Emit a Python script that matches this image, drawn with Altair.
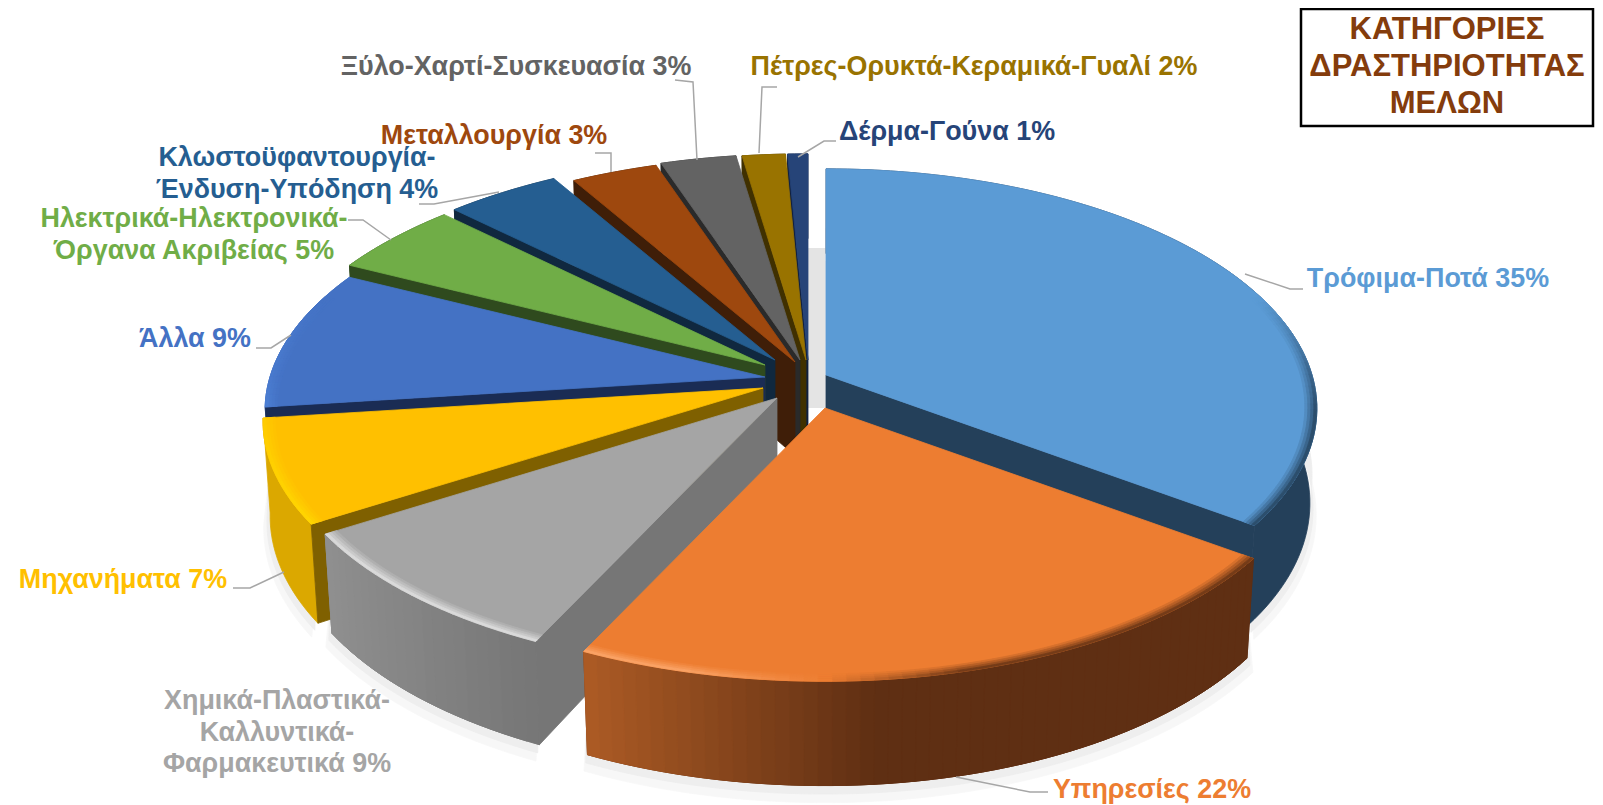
import math
import altair as alt
import pandas as pd

# ---- data ----
categories = ["Τρόφιμα-Ποτά", "Υπηρεσίες", "Χημικά-Πλαστικά-\nΚαλλυντικά-\nΦαρμακευτικά", "Μηχανήματα", "Άλλα",
              "Ηλεκτρικά-Ηλεκτρονικά-\nΌργανα Ακριβείας", "Κλωστοϋφαντουργία-\nΈνδυση-Υπόδηση", "Μεταλλουργία",
              "Ξύλο-Χαρτί-Συσκευασία", "Πέτρες-Ορυκτά-Κεραμικά-Γυαλί", "Δέρμα-Γούνα"]
shown_pct = [35, 22, 9, 7, 9, 5, 4, 3, 3, 2, 1]
shares = [35.0, 22.0, 9.0, 7.0, 9.45, 4.95, 4.25, 3.2, 2.8, 1.6, 0.75]
title_lines = "ΚΑΤΗΓΟΡΙΕΣ\nΔΡΑΣΤΗΡΙΟΤΗΤΑΣ\nΜΕΛΩΝ"

# ---- styling ----
top_colors = ["#5B9BD5", "#ED7D31", "#A5A5A5", "#FFC000", "#4472C4", "#70AD47", "#255E91", "#9E480E", "#636363", "#997300", "#264478"]
side_colors = ["#24405A", "#5F2F13", "#767676", "#7F6000", "#1A2C54", "#2F4A1E", "#10283F", "#3F1E08", "#2A2A2A", "#403000", "#102040"]
lit_colors = {1: "#FFB27A", 2: "#F0F0F0", 3: "#FFE000", 4: "#5A96F0"}

# ---- layout (screenshot pixels) ----
OX, OY = 8, 8
RX_L, RX_R, RY, PERSP, THICK, TAPER = 495, 486, 235, 0.14, 95, 0.014
apex = [(826, 375), (825, 408), (777, 398), (763, 388), (765, 377), (765, 365), (775, 360), (795, 362), (800, 360), (806, 360), (808, 360)]
draw_order = [10, 9, 8, 7, 6, 5, 4, 3, 2, 0, 1]
label_pos = [(1428, 279), (1152, 790), (277, 701), (123, 580), (195, 339), (194, 219), (297, 158), (494, 136), (516, 67), (974, 67), (947, 132)]
leaders = [
    [(1245, 274), (1290, 289), (1303, 289)], [(956, 777), (1030, 792), (1048, 792)], [],
    [(284, 572), (250, 588), (233, 588)], [(291, 335), (271, 348), (256, 348)],
    [(391, 240), (363, 220), (348, 220)], [(499, 192), (434, 204), (419, 204)],
    [(611, 172), (611, 153), (595, 153)], [(697, 160), (693, 82), (675, 80)],
    [(759, 153), (762, 87), (777, 87)], [(798, 157), (824, 141), (836, 141)],
]


def proj(i, th, r=1.0, z=0.0):
    X, Y = r * math.sin(th), -r * math.cos(th)
    w = 1 - PERSP * Y + TAPER * z
    rx = RX_R if X > 0 else RX_L
    return [apex[i][0] - OX + rx * X / w, apex[i][1] - OY + (RY * Y + THICK * z) / w]


def mix(a, b, t):
    t = max(0.0, min(1.0, t))
    pa = [int(a[k:k + 2], 16) for k in (1, 3, 5)]
    pb = [int(b[k:k + 2], 16) for k in (1, 3, 5)]
    return "#%02x%02x%02x" % tuple(round(x + (y - x) * t) for x, y in zip(pa, pb))


def feat(ring, color):
    return {"type": "Feature", "properties": {"c": color},
            "geometry": {"type": "Polygon", "coordinates": [ring + [ring[0]]]}}


def wall_color(i, X):
    if i == 1:
        return mix("#B25E26", "#5F2F13", (X + 0.45) / 0.55)
    if i == 2:
        return mix("#909090", "#757575", (X + 0.85) / 0.45)
    if i == 3:
        return "#DBA800"
    if i == 4:
        return "#3F6FC4"
    return side_colors[i]


features = []
angles = []
acc = 0.0
for s in shares:
    angles.append((acc * 3.6 * math.pi / 180, (acc + s) * 3.6 * math.pi / 180))
    acc += s

# soft ground shadow
for i in (0, 1, 2, 3):
    a, b = angles[i]
    n = max(6, int((b - a) * 40))
    ths = [a + (b - a) * k / n for k in range(n + 1)]
    for extra, col in ((1.12, "#F7F7F7"), (1.06, "#EEEEEE")):
        upper = [proj(i, t, 1.0, 0.7) for t in ths]
        lower = [proj(i, t, 1.0 + (extra - 1) * 0.12, extra) for t in reversed(ths)]
        features.append(feat(upper + lower, col))

RINGS = [(0.976, 0.982, 0.2), (0.982, 0.988, 0.45), (0.988, 0.994, 0.7), (0.994, 1.0, 1.0)]
for i in draw_order:
    a, b = angles[i]
    n = max(3, int((b - a) * 40))
    ths = [a + (b - a) * k / n for k in range(n + 1)]
    # outer wall: one solid base, then colour bands where it shades
    base = [proj(i, t, 1, 0) for t in ths] + [proj(i, t, 1, 1) for t in reversed(ths)]
    features.append(feat(base, wall_color(i, math.sin((a + b) / 2))))
    if i in (1, 2):
        for k in range(n):
            t0, t1 = ths[k], ths[min(k + 2, n)]
            features.append(feat([proj(i, t0, 1, 0), proj(i, t1, 1, 0), proj(i, t1, 1, 1), proj(i, t0, 1, 1)],
                                 wall_color(i, math.sin(t0))))
    # the radial face that looks toward the viewer
    visible = {0: [b], 1: []}.get(i, [a])
    for t in visible:
        features.append(feat([proj(i, t, 0, 0), proj(i, t, 1, 0), proj(i, t, 1, 1), proj(i, t, 0, 1)], side_colors[i]))
    # top face
    features.append(feat([proj(i, a, 0, 0)] + [proj(i, t, 1, 0) for t in ths], top_colors[i]))
    # bevel along the rim
    for r0, r1, ramp in RINGS:
        for k in range(n):
            t0, t1 = ths[k], ths[k + 1]
            tm = (t0 + t1) / 2
            X, Y = math.sin(tm), -math.cos(tm)
            if Y < -0.35:
                continue
            fade = min(1.0, (Y + 0.35) / 0.5) * min(1.0, abs(X) / 0.25)
            if X < 0 and i in lit_colors:
                strength = ramp * 0.7 * min(1.0, 0.4 + abs(Y)) * fade
                col = mix(top_colors[i], lit_colors[i], strength)
            elif X >= 0:
                col = mix(top_colors[i], side_colors[i], ramp * 0.85 * fade)
            else:
                continue
            features.append(feat([proj(i, t0, r0, 0), proj(i, t1, r0, 0), proj(i, t1, r1, 0), proj(i, t0, r1, 0)], col))

pie = (alt.Chart(alt.Data(values=features))
       .mark_geoshape(strokeWidth=0.8)
       .encode(fill=alt.Fill("properties.c:N", scale=None), stroke=alt.Stroke("properties.c:N", scale=None))
       .project(type="identity", scale=1, translate=[0, 0]))

px = alt.X("x:Q", scale=None, axis=None)
py = alt.Y("y:Q", scale=None, axis=None)

# light gap shadow beside the first slice
gap = alt.Chart(pd.DataFrame({"x": [apex[10][0] - OX], "x2": [apex[0][0] - OX], "y": [248 - OY], "y2": [408 - OY]})).mark_rect(
    color="#E4E4E4").encode(px, alt.X2("x2:Q"), py, alt.Y2("y2:Q"))

lead_rows = []
for i, pts in enumerate(leaders):
    for j, (x, y) in enumerate(pts):
        lead_rows.append({"k": i, "o": j, "x": x - OX, "y": y - OY})
lead = alt.Chart(pd.DataFrame(lead_rows)).mark_line(color="#A6A6A6", strokeWidth=1.5).encode(
    px, py, detail="k:N", order="o:Q")

labels = pd.DataFrame({
    "t": [f"{c} {p}%" for c, p in zip(categories, shown_pct)],
    "x": [p[0] - OX for p in label_pos], "y": [p[1] - OY for p in label_pos], "c": top_colors})
text = alt.Chart(labels).mark_text(font="Liberation Sans", fontWeight="bold", fontSize=26.9, lineBreak="\n",
                                   lineHeight=31.5, align="center", baseline="middle").encode(
    px, py, text="t:N", color=alt.Color("c:N", scale=None))

box = alt.Chart(pd.DataFrame({"x": [1301 - OX], "x2": [1593 - OX], "y": [1], "y2": [118]})).mark_rect(
    fill="#FFFFFF", stroke="#000000", strokeWidth=2.5).encode(px, alt.X2("x2:Q"), py, alt.Y2("y2:Q"))
title = alt.Chart(pd.DataFrame({"t": [title_lines], "x": [1447 - OX], "y": [30 - OY]})).mark_text(
    font="Liberation Sans", fontWeight="bold", fontSize=31, lineBreak="\n", lineHeight=37, color="#843C0C",
    align="center", baseline="middle").encode(px, py, text="t:N")

chart = alt.layer(gap, pie, lead, text, box, title).properties(
    width=1587, height=797, padding=0, autosize=alt.AutoSizeParams(type="none")
).configure_view(stroke=None)
chart.save("out.html", embed_options={"renderer": "svg", "actions": False})
